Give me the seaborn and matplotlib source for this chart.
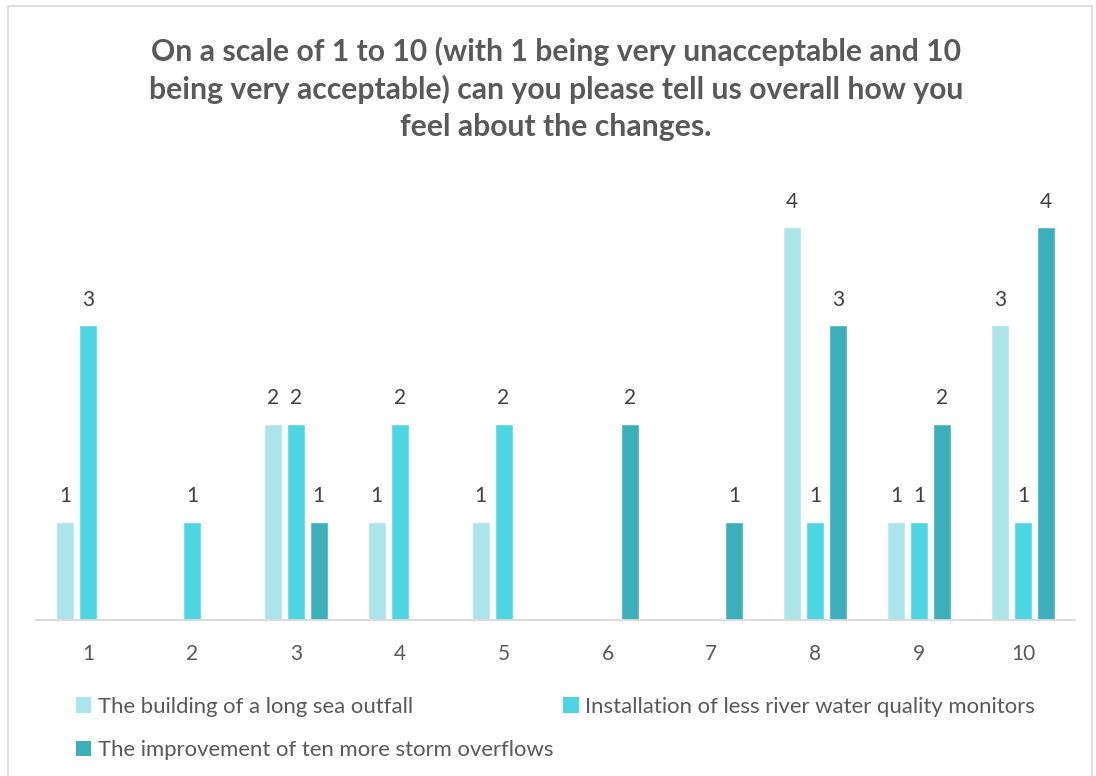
import matplotlib
matplotlib.use("Agg")
import matplotlib.pyplot as plt
from matplotlib.patches import Patch, Rectangle
import seaborn as sns
import pandas as pd

scores = ["1", "2", "3", "4", "5", "6", "7", "8", "9", "10"]
series_names = [
    "The building of a long sea outfall",
    "Installation of less river water quality monitors",
    "The improvement of ten more storm overflows",
]
sea_outfall = [1, 0, 2, 1, 1, 0, 0, 4, 1, 3]
river_monitors = [3, 1, 2, 2, 2, 0, 0, 1, 1, 1]
storm_overflows = [0, 0, 1, 0, 0, 2, 1, 3, 2, 4]
colors = ["#ACE4EC", "#4ED5E2", "#3CAFBB"]

title = ("On a scale of 1 to 10 (with 1 being very unacceptable and 10\n"
         "being very acceptable) can you please tell us overall how you\n"
         "feel about the changes.")

values = [sea_outfall, river_monitors, storm_overflows]
df = pd.DataFrame({
    "score": scores * 3,
    "series": [n for n in series_names for _ in scores],
    "count": sea_outfall + river_monitors + storm_overflows,
})

sns.set_theme(style="white")
plt.rcParams["font.family"] = ["Lato", "DejaVu Sans"]

fig = plt.figure(figsize=(10.96, 7.76), dpi=100)
ax = fig.add_axes([36 / 1096, 156 / 776, 1039 / 1096, 442 / 776])

sns.barplot(data=df, x="score", y="count", hue="series", order=scores,
            hue_order=series_names, palette=colors, width=0.664, gap=0.22,
            saturation=1, legend=False, ax=ax)

for cont, vals in zip(ax.containers, values):
    ax.bar_label(cont, labels=[str(v) if v > 0 else "" for v in vals],
                 padding=11, fontsize=15, color="#404040")

ax.set_ylim(0, 4.5)
ax.set_xlim(-0.5, 9.5)
ax.set_xlabel("")
ax.set_ylabel("")
ax.set_yticks([])
for s in ["top", "left", "right"]:
    ax.spines[s].set_visible(False)
ax.spines["bottom"].set_color("#D9D9D9")
ax.spines["bottom"].set_linewidth(1.3)
ax.tick_params(axis="x", length=0, pad=17, labelsize=15, labelcolor="#595959")

fig.text(556 / 1096, 1 - 89 / 776, title, ha="center", va="center",
         fontsize=21.7, fontweight="bold", color="#595959", linespacing=1.38)

handles = [Patch(facecolor=c, edgecolor="none") for c in colors]
order = [0, 2, 1]
fig.legend([handles[i] for i in order], [series_names[i] for i in order],
           ncol=2, loc="upper left", bbox_to_anchor=(67 / 1096, 1 - 688 / 776),
           frameon=False, fontsize=15.9, labelcolor="#595959",
           handlelength=0.7, handleheight=0.7, handletextpad=0.3,
           columnspacing=0.45, labelspacing=1.05, borderaxespad=0)

fig.patches.append(Rectangle((8 / 1096, -0.01), 1084 / 1096, 1 - 6 / 776 + 0.01,
                             transform=fig.transFigure, fill=False,
                             edgecolor="#D9D9D9", linewidth=1.2))

fig.savefig("out.png", dpi=100, facecolor="white")
